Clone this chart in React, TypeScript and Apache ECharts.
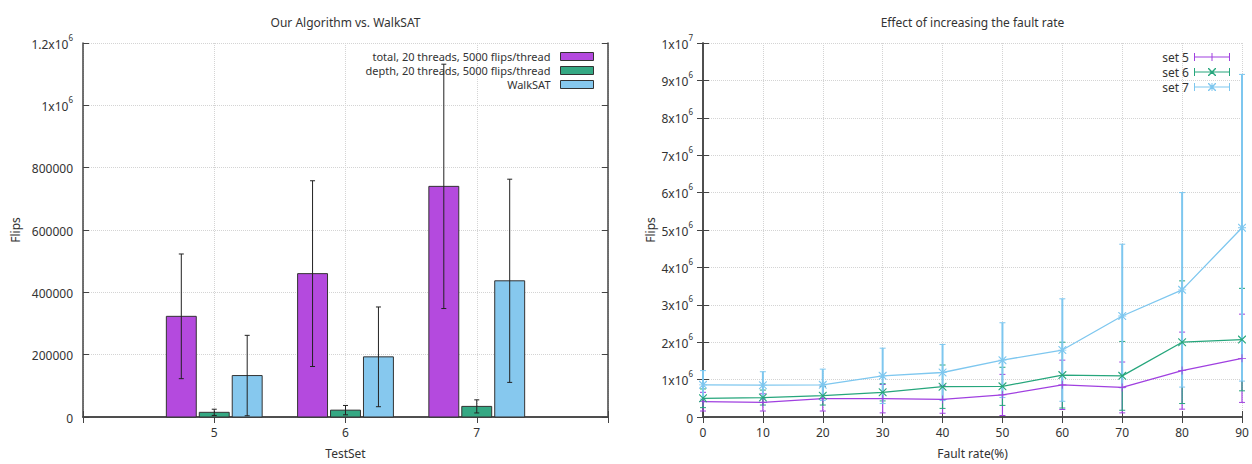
import React, { useEffect, useRef } from 'react';
import * as echarts from 'echarts';

// ---- Left chart data ----
const testSets = [5, 6, 7];
const totalFlips = [323000, 460000, 740000];
const totalErr = [200000, 298000, 392000];
const depthFlips = [15000, 22000, 34000];
const depthErr = [10000, 15000, 21000];
const walkSatFlips = [133000, 193000, 437000];
const walkSatErr = [129000, 160000, 326000];

// ---- Right chart data ----
const faultRates = [0, 10, 20, 30, 40, 50, 60, 70, 80, 90];
const set5Flips = [410000, 390000, 490000, 490000, 470000, 590000, 860000, 790000, 1240000, 1570000];
const set5Err = [250000, 230000, 330000, 380000, 370000, 550000, 660000, 680000, 1030000, 1180000];
const set6Flips = [500000, 520000, 570000, 660000, 810000, 820000, 1120000, 1100000, 2000000, 2070000];
const set6Err = [250000, 200000, 250000, 230000, 580000, 510000, 880000, 920000, 1640000, 1370000];
const set7Flips = [860000, 850000, 860000, 1100000, 1190000, 1520000, 1790000, 2700000, 3400000, 5060000];
const set7Err = [380000, 360000, 420000, 740000, 750000, 1000000, 1370000, 1920000, 2600000, 4100000];

const FONT = '"Noto Sans", "DejaVu Sans", sans-serif';
const TEXT = '#333';

const PURPLE_BAR = '#b44ade';
const GREEN_BAR = '#35a883';
const BLUE_BAR = '#86c8ee';
const PURPLE = '#a040e0';
const GREEN = '#26a67c';
const BLUE = '#7ec7ef';

const BAR_HALF = 0.114;
const BAR_OFFSET = 0.251;

const SYM_PLUS = 'path://M0,4.5h10v1h-10z M4.5,0h1v10h-1z';
const SYM_X = 'path://M0,0L1,0L10,9L10,10L9,10L0,1Z M10,0L10,1L1,10L0,10L0,9L9,0Z';
const SYM_STAR = 'path://M0,4.5h10v1h-10z M4.5,0h1v10h-1z M0,0L1,0L10,9L10,10L9,10L0,1Z M10,0L10,1L1,10L0,10L0,9L9,0Z';

const LEG_BASE = 'M0,0h1v8h-1z M0,3.5h36v1h-36z M35,0h1v8h-1z';
const LEG_PLUS = 'path://' + LEG_BASE + ' M17.5,0h1v8h-1z';
const LEG_X = 'path://' + LEG_BASE + ' M14,0L15,0L22,7L22,8L21,8L14,1Z M22,0L22,1L15,8L14,8L14,7L21,0Z';
const LEG_STAR = 'path://' + LEG_BASE + ' M17.5,0h1v8h-1z M14,0L15,0L22,7L22,8L21,8L14,1Z M22,0L22,1L15,8L14,8L14,7L21,0Z';

const labelRich = {
  b: { fontSize: 12, lineHeight: 14, verticalAlign: 'bottom', color: TEXT, fontFamily: FONT },
  s: { fontSize: 8, lineHeight: 8, padding: [0, 0, 9, 0], verticalAlign: 'bottom', color: TEXT, fontFamily: FONT },
};

const leftYFmt = (v: number) => (v >= 1e6 ? `{b|${v / 1e6}x10}{s|6}` : `{b|${v}}`);
const rightYFmt = (v: number) => {
  if (v === 0) return '{b|0}';
  if (v >= 1e7) return `{b|${v / 1e7}x10}{s|7}`;
  return `{b|${v / 1e6}x10}{s|6}`;
};

const axisLineStyle = { show: true, lineStyle: { color: '#444', width: 1.5 } };
const tickStyle = { show: true, inside: true, length: 6, lineStyle: { color: '#444', width: 1 } };
const splitStyle = { show: true, lineStyle: { color: '#d4d4d4', type: 'dotted' as const, width: 1 } };

function barSeries(name: string, values: number[], errs: number[], color: string, offset: number) {
  return {
    type: 'custom',
    name,
    xAxisIndex: 0,
    yAxisIndex: 0,
    data: testSets.map((t, i) => [t, values[i], errs[i]]),
    encode: { x: 0, y: 1 },
    renderItem: (_params: any, api: any) => {
      const x = api.value(0) + offset;
      const y = api.value(1);
      const e = api.value(2);
      const tl = api.coord([x - BAR_HALF, y]);
      const br = api.coord([x + BAR_HALF, 0]);
      const top = api.coord([x, y + e]);
      const bot = api.coord([x, Math.max(0, y - e)]);
      const cap = 2.5;
      return {
        type: 'group',
        children: [
          {
            type: 'rect',
            shape: { x: tl[0], y: tl[1], width: br[0] - tl[0], height: br[1] - tl[1] },
            style: { fill: color, stroke: '#333', lineWidth: 1 },
          },
          { type: 'line', shape: { x1: top[0], y1: top[1], x2: bot[0], y2: bot[1] }, style: { stroke: '#222', lineWidth: 1 } },
          { type: 'line', shape: { x1: top[0] - cap, y1: top[1], x2: top[0] + cap, y2: top[1] }, style: { stroke: '#222', lineWidth: 1 } },
          { type: 'line', shape: { x1: bot[0] - cap, y1: bot[1], x2: bot[0] + cap, y2: bot[1] }, style: { stroke: '#222', lineWidth: 1 } },
        ],
      };
    },
  };
}

function errSeries(name: string, values: number[], errs: number[], color: string, width: number) {
  return {
    type: 'custom',
    name,
    xAxisIndex: 2,
    yAxisIndex: 2,
    data: faultRates.map((f, i) => [f, values[i], errs[i]]),
    encode: { x: 0, y: 1 },
    renderItem: (_params: any, api: any) => {
      const x = api.value(0);
      const y = api.value(1);
      const e = api.value(2);
      const top = api.coord([x, Math.min(1e7, y + e)]);
      const bot = api.coord([x, Math.max(0, y - e)]);
      const cap = 3;
      const st = { stroke: color, lineWidth: width };
      return {
        type: 'group',
        children: [
          { type: 'line', shape: { x1: top[0], y1: top[1], x2: bot[0], y2: bot[1] }, style: st },
          { type: 'line', shape: { x1: top[0] - cap, y1: top[1], x2: top[0] + cap, y2: top[1] }, style: { stroke: color, lineWidth: 1 } },
          { type: 'line', shape: { x1: bot[0] - cap, y1: bot[1], x2: bot[0] + cap, y2: bot[1] }, style: { stroke: color, lineWidth: 1 } },
        ],
      };
    },
  };
}

function lineSeries(name: string, values: number[], color: string, symbol: string) {
  return {
    type: 'line',
    name,
    xAxisIndex: 2,
    yAxisIndex: 2,
    data: faultRates.map((f, i) => [f, values[i]]),
    symbol,
    symbolSize: 8,
    showAllSymbol: true,
    lineStyle: { color, width: 1.3 },
    itemStyle: { color },
  };
}

export default function App() {
  const ref = useRef<HTMLDivElement>(null);
  useEffect(() => {
    document.body.style.margin = '0';
    if (!ref.current) return;
    const chart = echarts.init(ref.current, undefined, { renderer: 'svg' });
    const option: any = {
      animation: false,
      backgroundColor: '#fff',
      textStyle: { fontFamily: FONT, color: TEXT },
      graphic: [
        { type: 'text', x: 345.5, y: 22, style: { text: 'Our Algorithm vs. WalkSAT', align: 'center', verticalAlign: 'middle', fontSize: 12, fontFamily: FONT, fill: TEXT } },
        { type: 'text', x: 972.5, y: 22, style: { text: 'Effect of increasing the fault rate', align: 'center', verticalAlign: 'middle', fontSize: 12, fontFamily: FONT, fill: TEXT } },
      ],
      grid: [
        { left: 83, top: 43, width: 525, height: 379, containLabel: false },
        { left: 703, top: 43, width: 539, height: 379, containLabel: false },
      ],
      xAxis: [
        {
          gridIndex: 0, type: 'value', min: 4, max: 8, interval: 1, position: 'bottom',
          name: 'TestSet', nameLocation: 'middle', nameGap: 30,
          nameTextStyle: { fontSize: 12, color: TEXT, fontFamily: FONT },
          axisLine: axisLineStyle, axisTick: tickStyle, splitLine: splitStyle,
          axisLabel: { margin: 9, fontSize: 12, color: TEXT, fontFamily: FONT, formatter: (v: number) => (testSets.includes(v) ? String(v) : '') },
        },
        {
          gridIndex: 0, type: 'value', min: 4, max: 8, interval: 1, position: 'top',
          axisLine: axisLineStyle, axisTick: tickStyle, splitLine: { show: false }, axisLabel: { show: false },
        },
        {
          gridIndex: 1, type: 'value', min: 0, max: 90, interval: 10, position: 'bottom',
          name: 'Fault rate(%)', nameLocation: 'middle', nameGap: 30,
          nameTextStyle: { fontSize: 12, color: TEXT, fontFamily: FONT },
          axisLine: axisLineStyle, axisTick: tickStyle, splitLine: splitStyle,
          axisLabel: { margin: 9, fontSize: 12, color: TEXT, fontFamily: FONT },
        },
        {
          gridIndex: 1, type: 'value', min: 0, max: 90, interval: 10, position: 'top',
          axisLine: axisLineStyle, axisTick: tickStyle, splitLine: { show: false }, axisLabel: { show: false },
        },
      ],
      yAxis: [
        {
          gridIndex: 0, type: 'value', min: 0, max: 1200000, interval: 200000, position: 'left',
          name: 'Flips', nameLocation: 'middle', nameGap: 62,
          nameTextStyle: { fontSize: 12, color: TEXT, fontFamily: FONT },
          axisLine: axisLineStyle, axisTick: tickStyle, splitLine: splitStyle,
          axisLabel: { margin: 10, formatter: leftYFmt, rich: labelRich },
        },
        {
          gridIndex: 0, type: 'value', min: 0, max: 1200000, interval: 200000, position: 'right',
          axisLine: axisLineStyle, axisTick: tickStyle, splitLine: { show: false }, axisLabel: { show: false },
        },
        {
          gridIndex: 1, type: 'value', min: 0, max: 10000000, interval: 1000000, position: 'left',
          name: 'Flips', nameLocation: 'middle', nameGap: 47,
          nameTextStyle: { fontSize: 12, color: TEXT, fontFamily: FONT },
          axisLine: axisLineStyle, axisTick: tickStyle, splitLine: splitStyle,
          axisLabel: { margin: 10, formatter: rightYFmt, rich: labelRich },
        },
        {
          gridIndex: 1, type: 'value', min: 0, max: 10000000, interval: 1000000, position: 'right',
          axisLine: axisLineStyle, axisTick: tickStyle, splitLine: { show: false }, axisLabel: { show: false },
        },
      ],
      legend: [
        {
          orient: 'vertical', align: 'right', right: 658, top: 51, padding: 0, itemGap: 3,
          itemWidth: 33, itemHeight: 8,
          textStyle: { fontSize: 11, color: TEXT, fontFamily: FONT, padding: [0, 5, 0, 0] },
          data: [
            { name: 'total, 20 threads, 5000 flips/thread', icon: 'rect', itemStyle: { color: PURPLE_BAR, borderColor: '#333', borderWidth: 1 } },
            { name: 'depth, 20 threads, 5000 flips/thread', icon: 'rect', itemStyle: { color: GREEN_BAR, borderColor: '#333', borderWidth: 1 } },
            { name: 'WalkSAT', icon: 'rect', itemStyle: { color: BLUE_BAR, borderColor: '#333', borderWidth: 1 } },
          ],
        },
        {
          orient: 'vertical', align: 'right', right: 22, top: 51, padding: 0, itemGap: 3,
          itemWidth: 36, itemHeight: 8,
          textStyle: { fontSize: 12, color: TEXT, fontFamily: FONT },
          itemStyle: { borderWidth: 0 },
          data: [
            { name: 'set 5', icon: LEG_PLUS },
            { name: 'set 6', icon: LEG_X },
            { name: 'set 7', icon: LEG_STAR },
          ],
        },
      ],
      series: [
        barSeries('total, 20 threads, 5000 flips/thread', totalFlips, totalErr, PURPLE_BAR, -BAR_OFFSET),
        barSeries('depth, 20 threads, 5000 flips/thread', depthFlips, depthErr, GREEN_BAR, 0),
        barSeries('WalkSAT', walkSatFlips, walkSatErr, BLUE_BAR, BAR_OFFSET),
        errSeries('set 5 error', set5Flips, set5Err, PURPLE, 1.2),
        lineSeries('set 5', set5Flips, PURPLE, SYM_PLUS),
        errSeries('set 6 error', set6Flips, set6Err, GREEN, 1.2),
        lineSeries('set 6', set6Flips, GREEN, SYM_X),
        errSeries('set 7 error', set7Flips, set7Err, BLUE, 2),
        lineSeries('set 7', set7Flips, BLUE, SYM_STAR),
      ],
    };
    chart.setOption(option);
    return () => chart.dispose();
  }, []);
  return <div ref={ref} style={{ width: 1252, height: 464 }} />;
}
